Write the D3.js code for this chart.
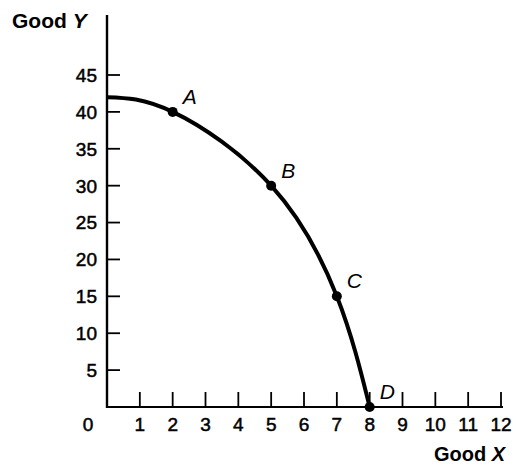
<!DOCTYPE html>
<html>
<head>
<meta charset="utf-8">
<script src="https://cdn.jsdelivr.net/npm/d3@7"></script>
<style>
  html, body { margin: 0; padding: 0; background: #fff; }
  svg { display: block; }
</style>
</head>
<body>
<svg id="chart"></svg>
<script>
const curveX = [0, 2, 5, 7, 8];
const curveY = [42, 40, 30, 15, 0];
const pointNames = ['A', 'B', 'C', 'D'];
const pointX = [2, 5, 7, 8];
const pointY = [40, 30, 15, 0];
const xTicks = [1, 2, 3, 4, 5, 6, 7, 8, 9, 10, 11, 12];
const yTicks = [5, 10, 15, 20, 25, 30, 35, 40, 45];

const width = 516;
const height = 466;
const font = '"Liberation Sans", Arial, sans-serif';

const x = d3.scaleLinear().domain([0, 12]).range([107, 501]);
const y = d3.scaleLinear().domain([0, 45]).range([407, 75]);

const svg = d3.select('#chart')
  .attr('width', width)
  .attr('height', height)
  .attr('font-family', font);

// axes lines
svg.append('line')
  .attr('x1', x(0)).attr('x2', x(0))
  .attr('y1', y(0) + 1).attr('y2', 15)
  .attr('stroke', '#000').attr('stroke-width', 2.4);

svg.append('line')
  .attr('x1', x(0)).attr('x2', 503)
  .attr('y1', y(0)).attr('y2', y(0))
  .attr('stroke', '#000').attr('stroke-width', 1.8);

// y ticks
svg.append('g').selectAll('line')
  .data(yTicks)
  .join('line')
  .attr('x1', x(0)).attr('x2', x(0) + 13)
  .attr('y1', d => y(d)).attr('y2', d => y(d))
  .attr('stroke', '#000').attr('stroke-width', 1.8);

svg.append('g')
  .attr('font-size', 19)
  .attr('stroke', '#000').attr('stroke-width', 0.5)
  .attr('text-anchor', 'end')
  .selectAll('text')
  .data(yTicks)
  .join('text')
  .attr('x', 97)
  .attr('y', d => y(d))
  .attr('dy', '0.36em')
  .text(d => d);

// x ticks
svg.append('g').selectAll('line')
  .data(xTicks)
  .join('line')
  .attr('x1', d => x(d)).attr('x2', d => x(d))
  .attr('y1', y(0)).attr('y2', y(0) - 15)
  .attr('stroke', '#000').attr('stroke-width', 1.8);

svg.append('g')
  .attr('font-size', 19)
  .attr('stroke', '#000').attr('stroke-width', 0.5)
  .attr('text-anchor', 'middle')
  .selectAll('text')
  .data([0].concat(xTicks))
  .join('text')
  .attr('x', d => d === 0 ? 88 : x(d))
  .attr('y', 431)
  .text(d => d);

// axis titles
const yTitle = svg.append('text')
  .attr('x', 12).attr('y', 28)
  .attr('font-size', 21)
  .attr('font-weight', 'bold');
yTitle.append('tspan').text('Good ');
yTitle.append('tspan').attr('font-style', 'italic').text('Y');

const xTitle = svg.append('text')
  .attr('x', 505).attr('y', 461)
  .attr('text-anchor', 'end')
  .attr('font-size', 20)
  .attr('font-weight', 'bold');
xTitle.append('tspan').text('Good ');
xTitle.append('tspan').attr('font-style', 'italic').text('X');

// frontier curve
const line = d3.line()
  .x(d => x(d[0]))
  .y(d => y(d[1]))
  .curve(d3.curveNatural);

svg.append('path')
  .datum(d3.zip(curveX, curveY))
  .attr('fill', 'none')
  .attr('stroke', '#000')
  .attr('stroke-width', 4)
  .attr('d', line);

svg.append('g').selectAll('circle')
  .data(d3.zip(pointX, pointY))
  .join('circle')
  .attr('cx', d => x(d[0]))
  .attr('cy', d => y(d[1]))
  .attr('r', 5)
  .attr('fill', '#000');

svg.append('g')
  .attr('font-size', 21)
  .attr('font-style', 'italic')
  .selectAll('text')
  .data(pointNames)
  .join('text')
  .attr('x', (d, i) => x(pointX[i]) + 10)
  .attr('y', (d, i) => y(pointY[i]) - 8)
  .text(d => d);
</script>
</body>
</html>
